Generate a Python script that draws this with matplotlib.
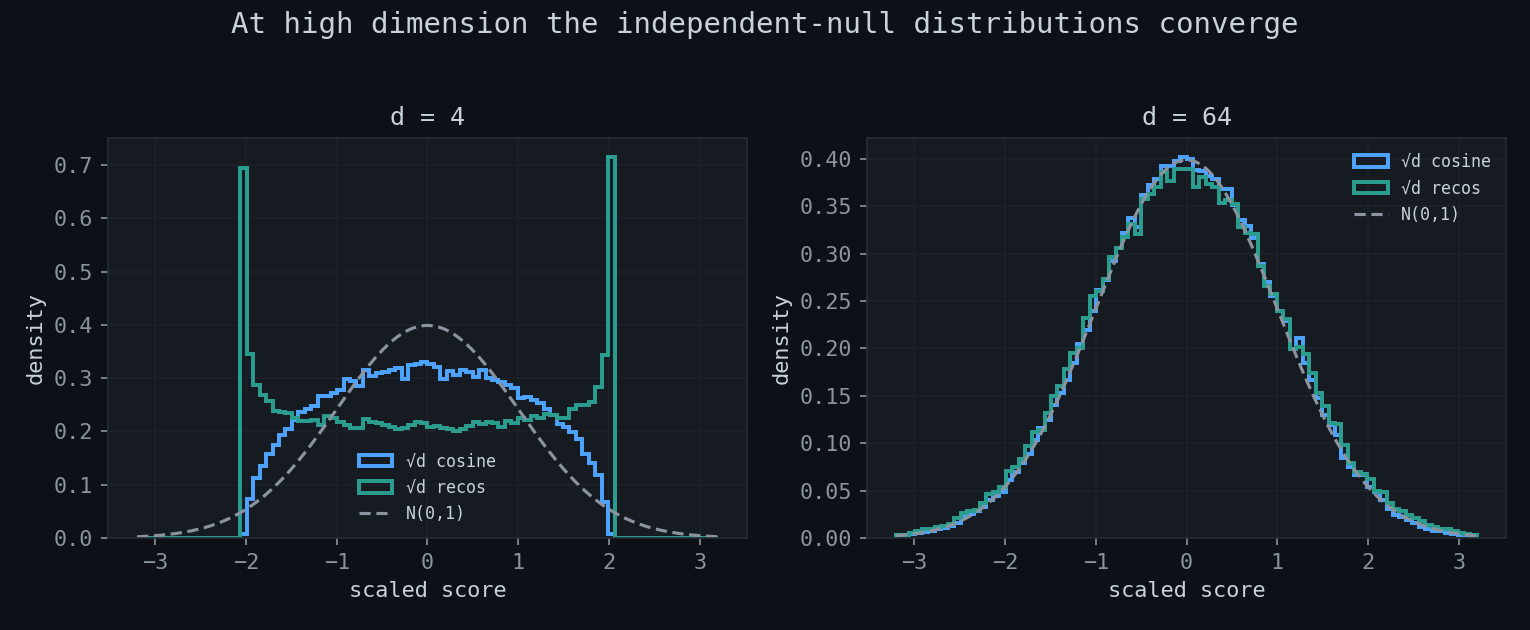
import numpy as np
import matplotlib
matplotlib.use("Agg")
import matplotlib.pyplot as plt

# histogram bins (90 bins over the plotted range)
bin_lo, bin_hi, n_bins = -3.2, 3.2, 90

# d = 4 : densities read per bin (zero outside [-2, 2])
cos_d4 = [0.0] * 16 + [
    0.008, 0.073, 0.113, 0.135, 0.158, 0.175, 0.193, 0.205, 0.222, 0.237,
    0.242, 0.247, 0.267, 0.266, 0.272, 0.278, 0.298, 0.294, 0.285, 0.315,
    0.304, 0.309, 0.312, 0.316, 0.320, 0.298, 0.325, 0.326, 0.330, 0.326,
    0.321, 0.298, 0.314, 0.306, 0.315, 0.312, 0.303, 0.316, 0.301, 0.297,
    0.293, 0.288, 0.282, 0.262, 0.265, 0.259, 0.253, 0.243, 0.230, 0.214,
    0.208, 0.199, 0.186, 0.157, 0.140, 0.118, 0.067, 0.008] + [0.0] * 16
recos_d4 = [0.0] * 16 + [
    0.695, 0.345, 0.287, 0.268, 0.258, 0.238, 0.236, 0.235, 0.226, 0.220,
    0.219, 0.221, 0.212, 0.229, 0.226, 0.218, 0.212, 0.206, 0.207, 0.224,
    0.218, 0.215, 0.212, 0.208, 0.204, 0.206, 0.212, 0.218, 0.215, 0.208,
    0.210, 0.206, 0.204, 0.200, 0.205, 0.210, 0.218, 0.214, 0.218, 0.215,
    0.208, 0.220, 0.215, 0.225, 0.222, 0.229, 0.225, 0.233, 0.231, 0.225,
    0.225, 0.243, 0.250, 0.250, 0.256, 0.283, 0.343, 0.715] + [0.0] * 16

# d = 64
cos_d64 = [
    0.003, 0.003, 0.004, 0.005, 0.006, 0.007, 0.009, 0.011, 0.013, 0.016,
    0.023, 0.025, 0.028, 0.033, 0.040, 0.044, 0.049, 0.061, 0.070, 0.079,
    0.089, 0.103, 0.116, 0.125, 0.140, 0.153, 0.167, 0.185, 0.205, 0.220,
    0.240, 0.262, 0.272, 0.292, 0.306, 0.322, 0.338, 0.328, 0.362, 0.372,
    0.379, 0.393, 0.392, 0.398, 0.402, 0.400, 0.388, 0.387, 0.382, 0.379,
    0.368, 0.368, 0.351, 0.336, 0.329, 0.317, 0.289, 0.270, 0.255, 0.240,
    0.229, 0.199, 0.211, 0.185, 0.167, 0.148, 0.130, 0.119, 0.109, 0.084,
    0.075, 0.067, 0.066, 0.054, 0.049, 0.040, 0.031, 0.024, 0.022, 0.019,
    0.016, 0.012, 0.009, 0.007, 0.007, 0.005, 0.004, 0.003, 0.003, 0.002]
recos_d64 = [
    0.003, 0.003, 0.005, 0.007, 0.009, 0.010, 0.012, 0.013, 0.015, 0.021,
    0.026, 0.029, 0.030, 0.037, 0.046, 0.049, 0.054, 0.071, 0.075, 0.083,
    0.097, 0.112, 0.114, 0.132, 0.150, 0.160, 0.178, 0.195, 0.200, 0.232,
    0.255, 0.261, 0.273, 0.296, 0.306, 0.318, 0.331, 0.321, 0.358, 0.363,
    0.370, 0.386, 0.377, 0.389, 0.389, 0.389, 0.370, 0.381, 0.374, 0.370,
    0.354, 0.357, 0.352, 0.328, 0.322, 0.321, 0.287, 0.266, 0.257, 0.240,
    0.231, 0.199, 0.202, 0.194, 0.174, 0.153, 0.139, 0.121, 0.120, 0.098,
    0.079, 0.070, 0.068, 0.062, 0.050, 0.049, 0.037, 0.031, 0.028, 0.024,
    0.021, 0.018, 0.014, 0.012, 0.010, 0.009, 0.007, 0.005, 0.004, 0.003]

panels = [("d = 4", cos_d4, recos_d4, "lower center"),
          ("d = 64", cos_d64, recos_d64, "upper right")]

BG = "#0d1117"
AX_BG = "#161b22"
GRID = "#1d222a"
SPINE = "#262c35"
MUTED = "#8b949e"
TEXT = "#c9d1d9"
BLUE = "#4da3ff"
TEAL = "#2a9d8f"

plt.rcParams["font.family"] = ["DejaVu Sans Mono", "DejaVu Sans"]

edges = np.linspace(bin_lo, bin_hi, n_bins + 1)
centers = (edges[:-1] + edges[1:]) / 2
xs = np.linspace(bin_lo, bin_hi, 400)
normal = np.exp(-xs ** 2 / 2) / np.sqrt(2 * np.pi)

fig, axes = plt.subplots(1, 2, figsize=(10.2, 4.2), dpi=150, facecolor=BG)
fig.subplots_adjust(left=0.0706, right=0.9843, bottom=0.146, top=0.781, wspace=0.188)

for ax, (title, cos_v, recos_v, loc) in zip(axes, panels):
    ax.set_facecolor(AX_BG)
    ax.hist(centers, bins=edges, weights=cos_v, histtype="step",
            color=BLUE, linewidth=1.9, label="√d cosine")
    ax.hist(centers, bins=edges, weights=recos_v, histtype="step",
            color=TEAL, linewidth=1.9, label="√d recos")
    ax.plot(xs, normal, color=MUTED, linewidth=1.5, dashes=(3.6, 1.8),
            label="N(0,1)")
    ax.grid(True, color=GRID, linewidth=0.8)
    ax.set_axisbelow(True)
    for s in ax.spines.values():
        s.set_color(SPINE)
    ax.tick_params(colors=MUTED, labelsize=10.5)
    ax.set_xticks(range(-3, 4))
    ax.set_title(title, color=TEXT, fontsize=12)
    ax.set_xlabel("scaled score", color=TEXT, fontsize=10.5)
    ax.set_ylabel("density", color=TEXT, fontsize=10.5)
    leg = ax.legend(loc=loc, fontsize=8, frameon=False)
    for t in leg.get_texts():
        t.set_color(TEXT)

fig.suptitle("At high dimension the independent-null distributions converge",
             color=TEXT, fontsize=14, y=0.982)

fig.savefig("out.png", facecolor=BG)
